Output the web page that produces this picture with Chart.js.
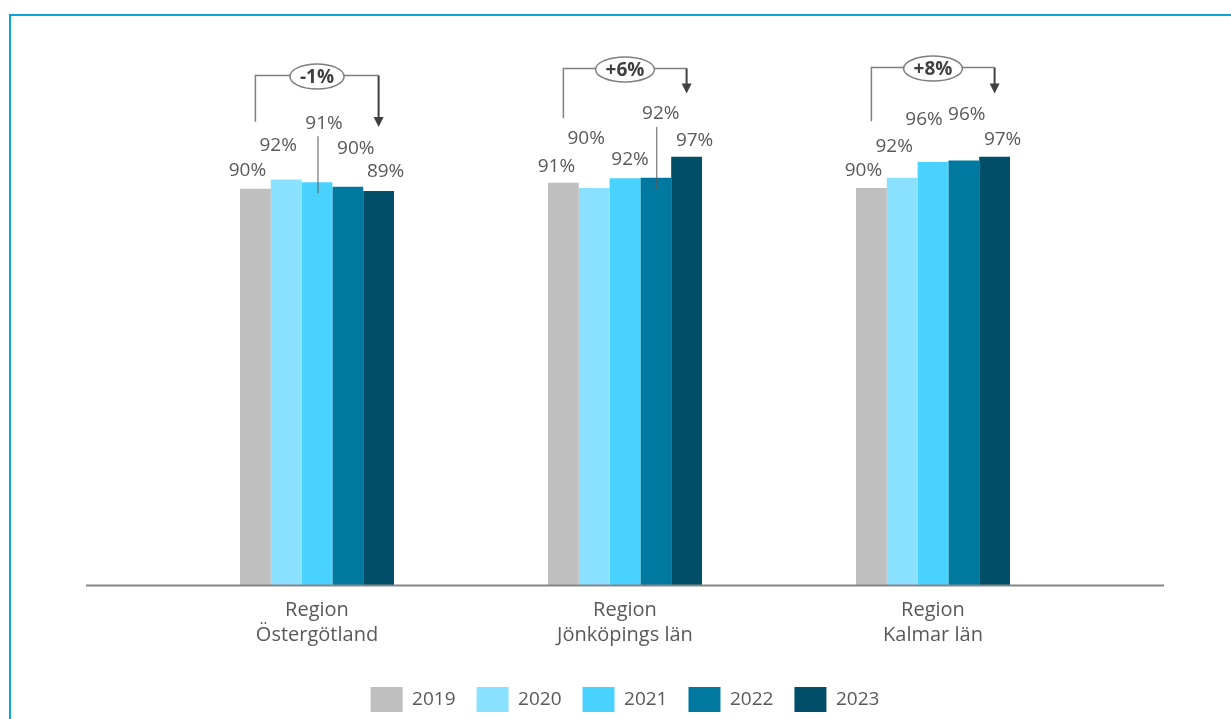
<!DOCTYPE html>
<html>
<head>
<meta charset="utf-8">
<script src="https://cdn.jsdelivr.net/npm/chart.js@4.4.0/dist/chart.umd.min.js"></script>
<style>
body { margin: 0; background: #fff; overflow: hidden; }
#frame { position: absolute; left: 9px; top: 14px; width: 1400px; height: 900px; border-top: 2px solid #0ca5db; border-left: 2px solid #0ca5db; }
#chart { position: absolute; left: 0; top: 0; }
</style>
</head>
<body>
<div id="frame"></div>
<canvas id="chart" width="1231" height="719"></canvas>
<script>
var categories = [['Region', 'Östergötland'], ['Region', 'Jönköpings län'], ['Region', 'Kalmar län']];
var years = ['2019', '2020', '2021', '2022', '2023'];
var share2019 = [89.9, 91.3, 90.1];
var share2020 = [92.0, 90.1, 92.4];
var share2021 = [91.4, 92.3, 96.0];
var share2022 = [90.4, 92.4, 96.3];
var share2023 = [89.4, 97.2, 97.2];
var changeLabels = ['-1%', '+6%', '+8%'];

var seriesValues = [share2019, share2020, share2021, share2022, share2023];
var colors = ['#bfbfbf', '#8ae1ff', '#4ad2ff', '#00789f', '#004e68'];
var font = '"Open Sans", sans-serif';
var textGrey = '#595959';

// label nudges [dx, dy] in px from the bar top, per year then per region
var labelNudge = [
    [[-8, -18], [-7, -16], [-8, -17]],
    [[-8, -34], [-8, -49], [-8, -31]],
    [[7, -59], [5, -19], [-9, -42]],
    [[8, -38], [5, -64], [3, -46]],
    [[7, -19], [8, -16], [8, -17]]
];
// labels that get a thin leader line: [year, region]
var leaders = [[2, 0], [3, 1]];
// bracket levels in axis units
var bracketTop = [115.6, 117.2, 117.4];
var bracketLeft = [105.1, 105.9, 105.2];
var arrowTip = [103.9, 111.5, 111.5];

var decor = {
    id: 'decor',
    afterDatasetsDraw: function (chart) {
        var ctx = chart.ctx;
        var area = chart.chartArea;
        var xs = chart.scales.x;
        var ys = chart.scales.y;
        var step = area.width / categories.length;
        ctx.save();
        //base line
        ctx.strokeStyle = '#868686';
        ctx.lineWidth = 2;
        ctx.beginPath();
        ctx.moveTo(area.left - step / 4, area.bottom);
        ctx.lineTo(area.right + step / 4, area.bottom);
        ctx.stroke();
        //value labels
        ctx.font = '19px ' + font;
        ctx.fillStyle = textGrey;
        ctx.textAlign = 'center';
        ctx.textBaseline = 'middle';
        seriesValues.forEach(function (vals, i) {
            chart.getDatasetMeta(i).data.forEach(function (bar, j) {
                var n = labelNudge[i][j];
                ctx.fillText(Math.round(vals[j]) + '%', bar.x + n[0], bar.y + n[1]);
            });
        });
        ctx.strokeStyle = textGrey;
        ctx.lineWidth = 1;
        leaders.forEach(function (l) {
            var bar = chart.getDatasetMeta(l[0]).data[l[1]];
            var n = labelNudge[l[0]][l[1]];
            ctx.beginPath();
            ctx.moveTo(bar.x + 1, bar.y + n[1] + 13);
            ctx.lineTo(bar.x + 1, bar.y + 11);
            ctx.stroke();
        });
        //change brackets
        changeLabels.forEach(function (txt, j) {
            var x0 = chart.getDatasetMeta(0).data[j].x;
            var x1 = chart.getDatasetMeta(years.length - 1).data[j].x;
            var xm = xs.getPixelForValue(j);
            var yt = ys.getPixelForValue(bracketTop[j]);
            ctx.font = 'bold 19px ' + font;
            var rx = (ctx.measureText(txt).width + 20) / 2;
            var ry = 12.5;
            ctx.strokeStyle = '#7f7f7f';
            ctx.lineWidth = 1.5;
            ctx.beginPath();
            ctx.moveTo(x0, ys.getPixelForValue(bracketLeft[j]));
            ctx.lineTo(x0, yt);
            ctx.lineTo(xm - rx, yt);
            ctx.moveTo(xm + rx, yt);
            ctx.lineTo(x1, yt);
            ctx.stroke();
            ctx.beginPath();
            ctx.ellipse(xm, yt + 1, rx, ry, 0, 0, Math.PI * 2);
            ctx.stroke();
            ctx.fillStyle = '#404040';
            ctx.fillText(txt, xm, yt + 2);
            var tip = ys.getPixelForValue(arrowTip[j]);
            ctx.strokeStyle = '#404040';
            ctx.lineWidth = 2;
            ctx.beginPath();
            ctx.moveTo(x1, yt);
            ctx.lineTo(x1, tip - 9);
            ctx.stroke();
            ctx.beginPath();
            ctx.moveTo(x1 - 5, tip - 10);
            ctx.lineTo(x1 + 5, tip - 10);
            ctx.lineTo(x1, tip);
            ctx.closePath();
            ctx.fill();
        });
        ctx.restore();
    }
};

new Chart('chart', {
    type: 'bar',
    data: {
        labels: categories,
        datasets: years.map(function (yr, i) {
            return {
                label: yr,
                data: seriesValues[i],
                backgroundColor: colors[i],
                borderWidth: 0
            };
        })
    },
    options: {
        responsive: false,
        animation: false,
        layout: { padding: { left: 163, right: 144, top: 34, bottom: -3 } },
        datasets: { bar: { categoryPercentage: 0.5, barPercentage: 1 } },
        plugins: {
            legend: {
                position: 'bottom',
                labels: {
                    boxWidth: 32,
                    boxHeight: 25,
                    padding: 21,
                    color: textGrey,
                    font: { size: 19, family: font }
                }
            },
            tooltip: { enabled: false }
        },
        scales: {
            x: {
                grid: { display: false, drawTicks: false },
                border: { display: false },
                ticks: {
                    color: textGrey,
                    padding: 12,
                    font: { size: 20, family: font, lineHeight: 1.25 }
                },
                afterFit: function (scale) { scale.height += 6.5; }
            },
            y: { display: false, min: 0, max: 125 }
        }
    },
    plugins: [decor]
});
</script>
</body>
</html>
